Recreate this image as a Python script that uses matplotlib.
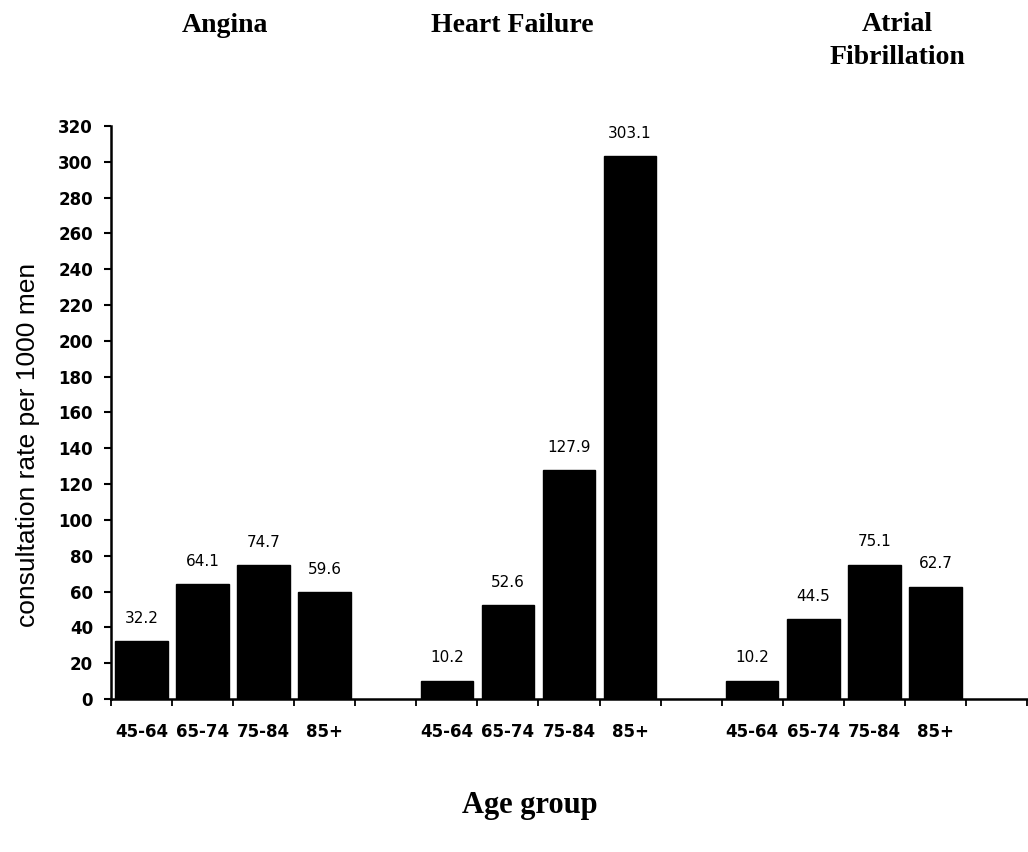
import matplotlib
matplotlib.use("Agg")
import matplotlib.pyplot as plt
import numpy as np

# Consultation rates per 1000 men, by condition and age group
conditions = ["Angina", "Heart Failure", "Atrial\nFibrillation"]
age_groups = ["45-64", "65-74", "75-84", "85+"]
angina = [32.2, 64.1, 74.7, 59.6]
heart_failure = [10.2, 52.6, 127.9, 303.1]
atrial_fibrillation = [10.2, 44.5, 75.1, 62.7]
y_ticks = list(range(0, 321, 20))

series = [angina, heart_failure, atrial_fibrillation]

fig = plt.figure(figsize=(10.28, 8.52), dpi=100)
ax = fig.add_axes([0.108, 0.1796, 0.891, 0.6725])

slots_per_group = len(age_groups) + 1
positions, heights, labels = [], [], []
for g, vals in enumerate(series):
    for i, v in enumerate(vals):
        positions.append(g * slots_per_group + i)
        heights.append(v)
        labels.append(age_groups[i])

ax.bar(positions, heights, width=0.86, color="black", edgecolor="black")

for x, v in zip(positions, heights):
    ax.annotate(f"{v:.1f}", (x, v), xytext=(0, 11), textcoords="offset points",
                ha="center", va="bottom", fontsize=11, family="DejaVu Sans")

n_slots = slots_per_group * len(series)
ax.set_xlim(-0.5, n_slots - 0.5)
ax.set_ylim(0, 320)

ax.set_xticks(positions)
ax.set_xticklabels(labels, fontsize=12, fontweight="bold", family="DejaVu Sans")
ax.tick_params(axis="x", which="major", length=0, pad=17)
ax.set_xticks(np.arange(-0.5, n_slots, 1.0), minor=True)
ax.tick_params(axis="x", which="minor", length=5, width=1.3, direction="out")

ax.set_yticks(y_ticks)
ax.set_yticklabels([str(t) for t in y_ticks], fontsize=12, fontweight="bold",
                   family="DejaVu Sans")
ax.tick_params(axis="y", length=5, width=1.5, direction="out", pad=8)

for side in ("top", "right"):
    ax.spines[side].set_visible(False)
for side in ("left", "bottom"):
    ax.spines[side].set_linewidth(1.8)

# Condition headings
title_pos = [(225, 25), (512, 25), (897, 41)]
for name, (px, py) in zip(conditions, title_pos):
    fig.text(px / 1028, 1 - py / 852, name, ha="center", va="center",
             fontsize=20, fontweight="bold", family="Liberation Serif",
             linespacing=1.45)

fig.text(28 / 1028, 1 - 445 / 852, "consultation rate per 1000 men",
         rotation=90, ha="center", va="center", fontsize=19,
         family="Liberation Sans")
fig.text(530 / 1028, 1 - 805 / 852, "Age group", ha="center", va="center",
         fontsize=22, fontweight="bold", family="Liberation Serif")

fig.savefig("out.png", dpi=100)
